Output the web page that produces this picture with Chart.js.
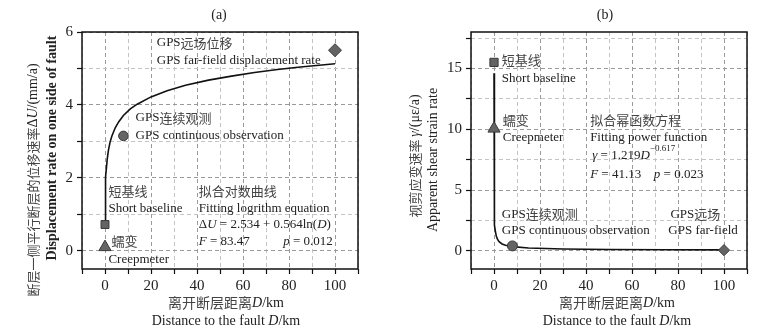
<!DOCTYPE html>
<html>
<head>
<meta charset="utf-8">
<script src="https://cdn.jsdelivr.net/npm/chart.js@4.4.1/dist/chart.umd.min.js"></script>
<style>
  body { margin: 0; background: #fff; }
  #sarici { position: relative; width: 778px; height: 335px; }
  .kutu { position: absolute; top: 0; width: 389px; height: 335px; }
</style>
</head>
<body>
<div id="sarici">
  <div class="kutu" style="left:0"><canvas id="grafikA" width="389" height="335"></canvas></div>
  <div class="kutu" style="left:389px"><canvas id="grafikB" width="389" height="335"></canvas></div>
</div>
<script>
/* (a) FAY YANINDA YER DEGISTIRME HIZI */
var mesafeEgriA = [0, 0.1, 0.2, 0.4, 0.7, 1, 1.5, 2.2, 3, 4.5, 6, 8, 11, 14, 20, 27, 35, 45, 55, 65, 75, 85, 100];
var hizEgriA = [0.72, 1.25, 1.63, 2.02, 2.33, 2.53, 2.76, 2.98, 3.15, 3.38, 3.54, 3.71, 3.89, 4.02, 4.22, 4.39, 4.54, 4.68, 4.79, 4.89, 4.97, 5.04, 5.13];
var olcumMesafeA = [0, 0, 8, 100];
var olcumHizA = [0.72, 0.1, 3.15, 5.5];

/* (b) GORUNUR MAKASLAMA GERINIM HIZI */
var mesafeEgriB = [0, 0.05, 0.1, 0.2, 0.4, 0.7, 1, 1.5, 2.2, 3.5, 5, 8, 15, 30, 50, 75, 100];
var gerinimEgriB = [14.6, 7.0, 5.0, 3.3, 2.1, 1.5, 1.22, 0.95, 0.75, 0.56, 0.45, 0.34, 0.23, 0.15, 0.11, 0.085, 0.07];
var olcumMesafeB = [0, 0, 8, 100];
var olcumGerinimB = [15.5, 10.05, 0.4, 0.05];

/* olcum turleri: kisa baz, creepmeter, GPS surekli, GPS uzak alan */
var olcumTurleri = ["短基线", "蠕变", "GPS连续观测", "GPS远场"];
var xEtiketleri = [0, 20, 40, 60, 80, 100];
var yEtiketleriA = [0, 2, 4, 6];
var yEtiketleriB = [0, 5, 10, 15];

var SERIF = '"Liberation Serif", "Times New Roman", serif';
var CJK = '"Noto Sans CJK SC", sans-serif';
var fontlar = {
  n: '13px ' + SERIF,
  i: 'italic 13px ' + SERIF,
  c: '13px ' + CJK,
  s: '9px ' + SERIF,
  e: '14px ' + SERIF,
  ei: 'italic 14px ' + SERIF,
  eb: 'bold 14px ' + SERIF,
  ec: '14px ' + CJK,
  yc13: '13px ' + CJK
};
var renkler = { n: '#222', i: '#222', s: '#222', c: '#444', e: '#222', ei: '#222', eb: '#222', ec: '#444', yc13: '#444' };

function noktalar(xler, yler) {
  var sonuc = [];
  for (var i = 0; i < xler.length; i++) {
    sonuc.push({x: xler[i], y: yler[i]});
  }
  return sonuc;
}

function parcaliYaz(ctx, parcalar, x, y, hiza) {
  var genislik = 0;
  for (var i = 0; i < parcalar.length; i++) {
    ctx.font = fontlar[parcalar[i][1]];
    genislik += ctx.measureText(parcalar[i][0]).width;
  }
  var bx = hiza == "center" ? x - genislik / 2 : x;
  for (var j = 0; j < parcalar.length; j++) {
    var p = parcalar[j];
    ctx.font = fontlar[p[1]];
    ctx.fillStyle = renkler[p[1]];
    ctx.fillText(p[0], bx, y + (p[2] || 0));
    bx += ctx.measureText(p[0]).width;
  }
}

// yazilar: veri koordinatinda notlar + sabit basliklar
function yaziEklentisi(notlar, sabitler) {
  return {
    id: 'yazilar',
    afterDraw: function (chart) {
      var ctx = chart.ctx;
      var alan = chart.chartArea;
      ctx.save();
      // cerceve
      ctx.strokeStyle = '#111';
      ctx.lineWidth = 1.5;
      ctx.strokeRect(alan.left, alan.top, alan.right - alan.left, alan.bottom - alan.top);
      ctx.textBaseline = 'middle';
      ctx.textAlign = 'left';
      for (var i = 0; i < notlar.length; i++) {
        var n = notlar[i];
        parcaliYaz(ctx, n.p, chart.scales.x.getPixelForValue(n.x), chart.scales.y.getPixelForValue(n.y), "left");
      }
      for (var j = 0; j < sabitler.length; j++) {
        var s = sabitler[j];
        ctx.save();
        ctx.translate(s.x, s.y);
        if (s.dik) ctx.rotate(-Math.PI / 2);
        parcaliYaz(ctx, s.p, 0, 0, "center");
        ctx.restore();
      }
      ctx.restore();
    }
  };
}

function eksenler(yMin, yMax, yAdim, yEtiketleri) {
  var anaMi = function (deger, liste) { return liste.indexOf(deger) >= 0; };
  return {
    x: {
      type: 'linear', min: -10, max: 110,
      afterFit: function (olcek) { olcek.height = 66; },
      border: { display: false, dash: [4, 3] },
      grid: {
        color: function (c) { return anaMi(c.tick.value, xEtiketleri) ? '#9a9a9a' : '#c4c4c4'; },
        lineWidth: 1, tickLength: 5, tickColor: '#111', tickWidth: 1.2
      },
      ticks: {
        stepSize: 10, includeBounds: false, autoSkip: false, maxRotation: 0, padding: 3,
        color: '#222', font: {family: SERIF, size: 15},
        callback: function (v) { return anaMi(v, xEtiketleri) ? v : ''; }
      }
    },
    y: {
      type: 'linear', min: yMin, max: yMax,
      afterFit: function (olcek) { olcek.width = 82; },
      border: { display: false, dash: [4, 3] },
      grid: {
        color: function (c) { return anaMi(c.tick.value, yEtiketleri) ? '#9a9a9a' : '#c4c4c4'; },
        lineWidth: 1, tickLength: 5, tickColor: '#111', tickWidth: 1.2
      },
      ticks: {
        stepSize: yAdim, includeBounds: false, autoSkip: false, padding: 4,
        color: '#222', font: {family: SERIF, size: 15},
        callback: function (v) { return anaMi(v, yEtiketleri) ? v : ''; }
      }
    }
  };
}

function veriSetleri(egriX, egriY, olcumX, olcumY, boyutlar) {
  var stiller = ['rect', 'triangle', 'circle', 'rectRot'];
  var setler = [{
    data: noktalar(egriX, egriY), showLine: true, tension: 0,
    borderColor: '#111', borderWidth: 1.6, pointRadius: 0, order: 5
  }];
  for (var i = 0; i < olcumX.length; i++) {
    setler.push({
      label: olcumTurleri[i],
      data: [{x: olcumX[i], y: olcumY[i]}],
      pointStyle: stiller[i], pointRadius: boyutlar[i],
      backgroundColor: '#646464', borderColor: '#3a3a3a', borderWidth: 1, order: 1
    });
  }
  return setler;
}

var ortakAyarlar = function (olcekler) {
  return {
    responsive: false, animation: false, devicePixelRatio: 1,
    layout: { padding: { left: 0, top: 32, right: 31, bottom: 0 } },
    plugins: { legend: { display: false }, tooltip: { enabled: false } },
    scales: olcekler
  };
};

var notlarA = [
  {x: 22.5, y: 5.70, p: [["GPS", 'n'], ["远场位移", 'c']]},
  {x: 22.5, y: 5.21, p: [["GPS far-field displacement rate", 'n']]},
  {x: 13.3, y: 3.65, p: [["GPS", 'n'], ["连续观测", 'c']]},
  {x: 13.3, y: 3.15, p: [["GPS continuous observation", 'n']]},
  {x: 1.5, y: 1.64, p: [["短基线", 'c']]},
  {x: 1.5, y: 1.15, p: [["Short baseline", 'n']]},
  {x: 2.8, y: 0.27, p: [["蠕变", 'c']]},
  {x: 1.5, y: -0.23, p: [["Creepmeter", 'n']]},
  {x: 40.8, y: 1.64, p: [["拟合对数曲线", 'c']]},
  {x: 40.8, y: 1.15, p: [["Fitting logrithm equation", 'n']]},
  {x: 40.8, y: 0.72, p: [["Δ", 'n'], ["U", 'i'], [" = 2.534 + 0.564ln(", 'n'], ["D", 'i'], [")", 'n']]},
  {x: 40.8, y: 0.24, p: [["F", 'i'], [" = 83.47", 'n']]},
  {x: 77.5, y: 0.24, p: [["p", 'i'], [" = 0.012", 'n']]}
];
var sabitA = [
  {x: 219, y: 15, p: [["(a)", 'e']]},
  {x: 226, y: 303, p: [["离开断层距离", 'ec'], ["D", 'ei'], ["/km", 'e']]},
  {x: 226, y: 321, p: [["Distance to the fault ", 'e'], ["D", 'ei'], ["/km", 'e']]},
  {x: 33, y: 180, dik: true, p: [["断层一侧平行断层的位移速率", 'yc13'], ["Δ", 'e'], ["U", 'ei'], ["/(mm/a)", 'e']]},
  {x: 52, y: 148, dik: true, p: [["Displacement rate on one side of fault", 'eb']]}
];

var notlarB = [
  {x: 3.4, y: 15.7, p: [["短基线", 'c']]},
  {x: 3.4, y: 14.2, p: [["Short baseline", 'n']]},
  {x: 3.8, y: 10.75, p: [["蠕变", 'c']]},
  {x: 3.8, y: 9.35, p: [["Creepmeter", 'n']]},
  {x: 41.8, y: 10.75, p: [["拟合幂函数方程", 'c']]},
  {x: 41.8, y: 9.35, p: [["Fitting power function", 'n']]},
  {x: 42.7, y: 7.87, p: [["γ", 'i'], [" = 1.219", 'n'], ["D", 'i'], ["−0.617", 's', -6]]},
  {x: 41.8, y: 6.3, p: [["F", 'i'], [" = 41.13", 'n']]},
  {x: 69.5, y: 6.3, p: [["p", 'i'], [" = 0.023", 'n']]},
  {x: 3.4, y: 3.0, p: [["GPS", 'n'], ["连续观测", 'c']]},
  {x: 3.4, y: 1.7, p: [["GPS continuous observation", 'n']]},
  {x: 76.7, y: 3.0, p: [["GPS", 'n'], ["远场", 'c']]},
  {x: 75.8, y: 1.7, p: [["GPS far-field", 'n']]}
];
var sabitB = [
  {x: 216, y: 15, p: [["(b)", 'e']]},
  {x: 228, y: 303, p: [["离开断层距离", 'ec'], ["D", 'ei'], ["/km", 'e']]},
  {x: 228, y: 321, p: [["Distance to the fault ", 'e'], ["D", 'ei'], ["/km", 'e']]},
  {x: 26, y: 156, dik: true, p: [["视剪应变速率 ", 'yc13'], ["γ", 'ei'], ["/(με/a)", 'e']]},
  {x: 44, y: 160, dik: true, p: [["Apparent shear strain rate", 'e']]}
];

new Chart(document.getElementById("grafikA"), {
  type: 'scatter',
  data: { datasets: veriSetleri(mesafeEgriA, hizEgriA, olcumMesafeA, olcumHizA, [5.6, 7, 4.8, 6.5]) },
  options: ortakAyarlar(eksenler(-0.5, 6, 1, yEtiketleriA)),
  plugins: [yaziEklentisi(notlarA, sabitA)]
});

new Chart(document.getElementById("grafikB"), {
  type: 'scatter',
  data: { datasets: veriSetleri(mesafeEgriB, gerinimEgriB, olcumMesafeB, olcumGerinimB, [5.8, 7, 5, 5.6]) },
  options: ortakAyarlar(eksenler(-1.5, 18, 2.5, yEtiketleriB)),
  plugins: [yaziEklentisi(notlarB, sabitB)]
});
</script>
</body>
</html>
